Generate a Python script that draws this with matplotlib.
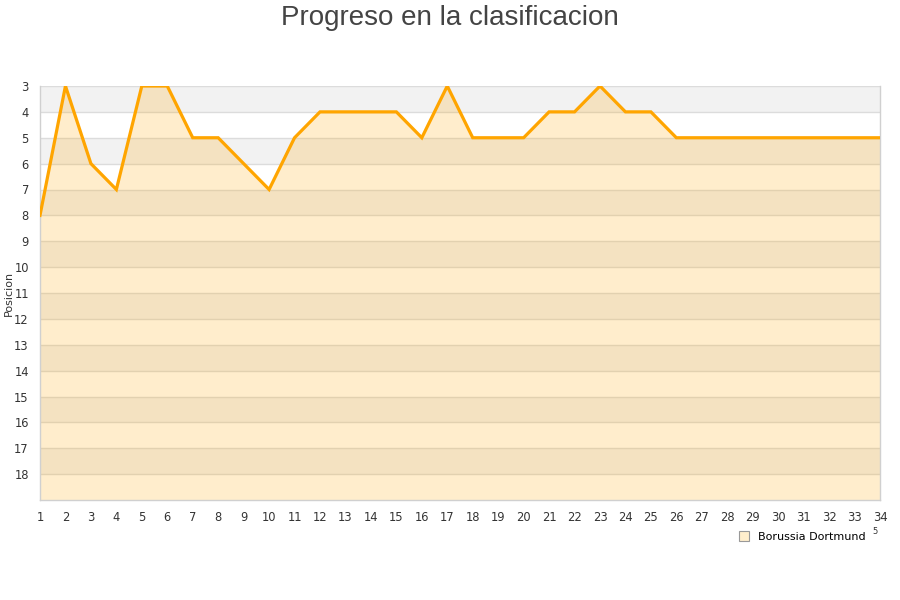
import matplotlib
matplotlib.use("Agg")
import matplotlib.pyplot as plt
from matplotlib.lines import Line2D

# datos
jornadas = list(range(1, 35))
posiciones = [8, 3, 6, 7, 3, 3, 5, 5, 6, 7, 5, 4, 4, 4, 4, 5, 3, 5, 5, 5,
              4, 4, 3, 4, 4, 5, 5, 5, 5, 5, 5, 5, 5, 5]
equipo = "Borussia Dortmund"
y_ticks = list(range(3, 19))

fig = plt.figure(figsize=(9, 6), dpi=100, facecolor="white")
ax = fig.add_axes([40 / 900, 1 - 500 / 600, 840 / 900, 414 / 600])

# bandas alternas de fondo
for y0 in range(3, 19):
    if y0 % 2 == 1:
        ax.axhspan(y0, y0 + 1, color="#f2f2f2", lw=0, zorder=0)

for y in y_ticks:
    ax.axhline(y, color="#dcdcdc", lw=1, zorder=1)

ax.fill_between(jornadas, posiciones, 19, color="#ffa500", alpha=0.2, lw=0, zorder=2)
ax.plot(jornadas, posiciones, color="#ffa500", lw=2.3, zorder=3, solid_joinstyle="miter")

ax.set_xlim(1, 34)
ax.set_ylim(19, 3)
ax.set_xticks(jornadas)
ax.set_yticks(y_ticks)
ax.tick_params(axis="both", length=0, labelsize=8.3, colors="#333333")
ax.tick_params(axis="x", pad=8)
ax.tick_params(axis="y", pad=8)

for side in ["left", "right", "bottom"]:
    ax.spines[side].set_color("#d0d0d0")
    ax.spines[side].set_linewidth(1)
ax.spines["top"].set_visible(False)

# etiqueta del eje y colocada a mano para que no se corte
fig.text(9 / 900, 1 - 293 / 600, "Posicion", rotation=90, ha="center", va="center",
         fontsize=8, color="#333333")

fig.text(0.5, 1 - 18 / 600, "Progreso en la clasificacion", ha="center", va="center",
         fontsize=20, color="#444444", family="Liberation Sans")

handle = Line2D([], [], marker="s", ls="none", markersize=7,
                markerfacecolor="#ffeecc", markeredgecolor="#999999", markeredgewidth=0.8)
fig.legend([handle], [equipo], loc="center left", bbox_to_anchor=(728 / 900, 1 - 537 / 600),
           frameon=False, fontsize=8, handletextpad=0.3, borderaxespad=0)
fig.text(875 / 900, 1 - 532 / 600, "5", fontsize=6, color="#333333", ha="center", va="center")

plt.savefig("out.png", dpi=100)
